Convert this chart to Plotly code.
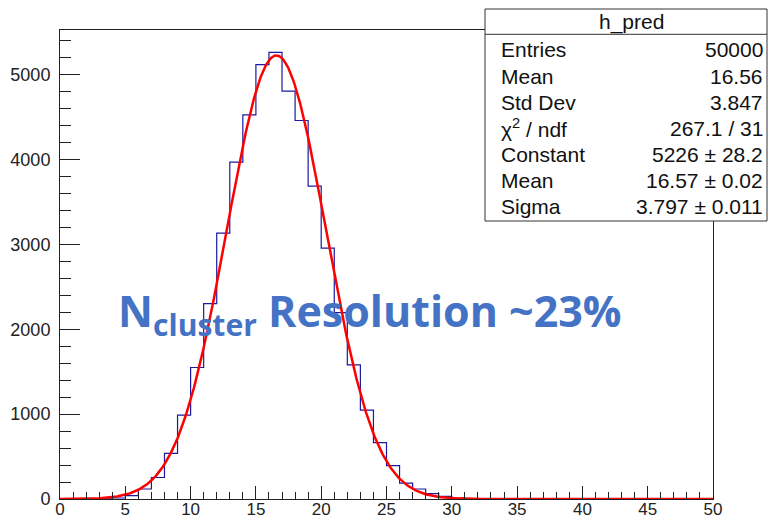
import numpy as np
import plotly.graph_objects as go

# Histogram h_pred: 50 unit-width bins over [0, 50]
bin_edges = list(range(0, 51))
counts = [0, 0, 1, 3, 12, 40, 118, 253, 538, 988,
          1549, 2302, 3133, 3968, 4525, 5118, 5262, 4804, 4459, 3686,
          2956, 2196, 1580, 1047, 663, 394, 188, 118, 63, 30,
          10, 4, 1, 0, 0, 0, 0, 0, 0, 0,
          0, 0, 0, 0, 0, 0, 0, 0, 0, 0]

# Gaussian fit parameters
fit_constant = 5226
fit_mean = 16.57
fit_sigma = 3.797

# Statistics box rows
stats_title = "h_pred"
stats_labels = ["Entries", "Mean", "Std Dev", "χ<sup>2</sup> / ndf",
                "Constant", "Mean", "Sigma"]
stats_values = ["50000", "16.56", "3.847", "267.1 / 31",
                "5226 ± 28.2", "16.57 ± 0.02", "3.797 ± 0.011"]

W, H = 774, 520
L, R, T, B = 60, 713, 30, 499   # plot frame in pixels


def px(x):
    return (x - L) / (R - L)


def py(y):
    return (B - y) / (B - T)


ymax = 1.05 * max(counts)

fig = go.Figure()

# step outline of the histogram
fig.add_trace(go.Scatter(
    x=bin_edges,
    y=counts + [counts[-1]],
    mode="lines",
    line=dict(shape="hv", color="#1a1aa0", width=1.2),
    hoverinfo="skip",
))

# fitted Gaussian
xf = np.linspace(0, 50, 801)
yf = fit_constant * np.exp(-0.5 * ((xf - fit_mean) / fit_sigma) ** 2)
fig.add_trace(go.Scatter(
    x=xf, y=yf, mode="lines",
    line=dict(color="#ff0000", width=2.5),
    hoverinfo="skip",
))

axis_common = dict(
    showgrid=False, zeroline=False, showline=True, mirror=True,
    linecolor="#222222", linewidth=1, ticks="inside", tickcolor="#222222",
    automargin=False,
)

fig.update_xaxes(range=[0, 50], dtick=5, tick0=0, ticklen=13,
                 minor=dict(ticks="inside", dtick=1, ticklen=7, tickcolor="#222222"),
                 tickfont=dict(family="Liberation Sans", size=17, color="#222222"),
                 ticklabelstandoff=-5, **axis_common)
fig.update_yaxes(range=[0, ymax], dtick=1000, tick0=0, ticklen=20,
                 minor=dict(ticks="inside", dtick=200, ticklen=11, tickcolor="#222222"),
                 tickfont=dict(family="Liberation Sans", size=18, color="#222222"),
                 ticklabelstandoff=5, **axis_common)

# statistics box
box_l, box_r, box_t, box_b = 485, 767, 9, 221
sep_y = 34.3
shapes = [
    dict(type="rect", xref="paper", yref="paper",
         x0=px(box_l), x1=px(box_r), y0=py(box_b), y1=py(box_t),
         fillcolor="white", line=dict(color="#333333", width=1), layer="above"),
    dict(type="line", xref="paper", yref="paper",
         x0=px(box_l), x1=px(box_r), y0=py(sep_y), y1=py(sep_y),
         line=dict(color="#333333", width=1), layer="above"),
]

stat_font = dict(family="Liberation Sans", size=21, color="#111111")
annotations = [
    dict(text=stats_title, xref="paper", yref="paper", x=px(631), y=py(22),
         xanchor="center", yanchor="middle", showarrow=False, font=stat_font),
]
row_y0, row_step = 50.0, 26.06
for i, (lab, val) in enumerate(zip(stats_labels, stats_values)):
    yy = py(row_y0 + i * row_step)
    annotations.append(dict(text=lab, xref="paper", yref="paper", x=px(499), y=yy,
                            xanchor="left", yanchor="middle", showarrow=False,
                            font=stat_font))
    annotations.append(dict(text=val, xref="paper", yref="paper", x=px(765), y=yy,
                            xanchor="right", yanchor="middle", showarrow=False,
                            font=stat_font))

# resolution label
annotations.append(dict(
    text="<b>N<sub>cluster</sub> Resolution ~23%</b>",
    xref="paper", yref="paper", x=px(116), y=py(313),
    xanchor="left", yanchor="middle", showarrow=False,
    font=dict(family="Open Sans", size=43, color="#4472C4"),
))

fig.update_layout(
    width=W, height=H,
    margin=dict(l=L, r=W - R, t=T, b=H - B),
    paper_bgcolor="white", plot_bgcolor="white",
    showlegend=False,
    shapes=shapes, annotations=annotations,
)

fig.write_html("out.html")
